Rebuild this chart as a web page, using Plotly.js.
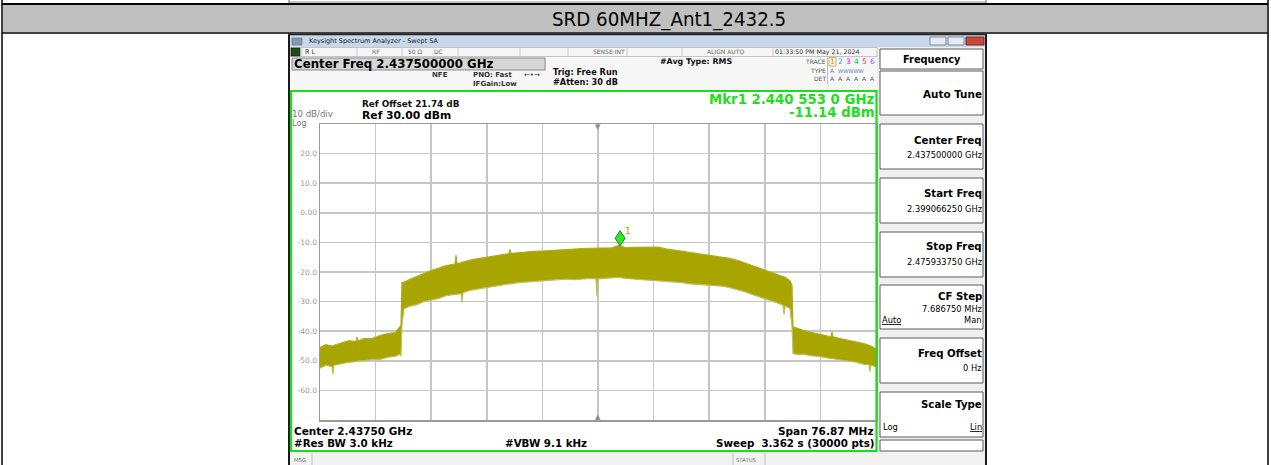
<!DOCTYPE html>
<html><head><meta charset="utf-8">
<script src="https://cdn.plot.ly/plotly-3.0.1.min.js"></script>
<style>html,body{margin:0;padding:0;background:#fff;overflow:hidden}#chart{width:1271px;height:465px}</style>
</head><body><div id="chart"></div>
<script>
// ---- chart data ----
const startFreq = 2.39906625, stopFreq = 2.47593375, centerFreq = 2.4375;
const freqStep = 0.00768675;           // GHz per division
const refLevel = 30, bottomLevel = -70, dbPerDiv = 10;
const freqGHz = [2.39907,2.39990,2.40072,2.40086,2.40100,2.40197,2.40308,2.40404,2.40418,2.40432,2.40515,2.40625,2.40736,
  2.40847,2.40944,2.41013,2.41026,2.41040,2.41068,2.41151,2.41248,2.41344,2.41441,2.41538,2.41649,2.41773,2.41787,2.41801,
  2.41856,2.41870,2.41884,2.41980,2.42091,2.42202,2.42312,2.42423,2.42519,2.42533,2.42547,2.42644,2.42755,2.42865,2.42976,
  2.43086,2.43197,2.43308,2.43418,2.43529,2.43639,2.43722,2.43736,2.43750,2.43833,2.43944,2.44040,2.44137,2.44248,2.44358,
  2.44469,2.44580,2.44690,2.44801,2.44911,2.45022,2.45133,2.45243,2.45354,2.45465,2.45575,2.45686,2.45796,2.45907,2.46018,
  2.46128,2.46239,2.46308,2.46322,2.46336,2.46405,2.46432,2.46446,2.46501,2.46598,2.46695,2.46792,2.46888,2.46971,2.46985,
  2.46999,2.47096,2.47206,2.47317,2.47427,2.47496,2.47510,2.47524,2.47593];
const upperDbm = [-45.5,-44.5,-45.0,-44.8,-44.8,-44.0,-43.2,-43.5,-42.0,-43.3,-42.5,-42.5,-41.5,
  -40.8,-40.5,-38.5,-38.0,-23.5,-23.5,-22.5,-21.5,-20.3,-19.5,-18.8,-17.8,-17.3,-14.3,-17.2,
  -16.8,-16.7,-16.6,-16.0,-15.5,-15.0,-14.5,-14.0,-13.8,-12.4,-13.7,-13.5,-13.2,-13.0,-12.9,
  -12.7,-12.5,-12.3,-12.2,-12.1,-12.0,-12.0,-12.0,-12.0,-11.9,-11.8,-11.0,-11.8,-11.7,-11.7,
  -11.8,-11.6,-12.2,-12.6,-13.0,-13.3,-13.6,-14.0,-14.5,-14.9,-15.4,-16.1,-17.0,-18.0,-19.0,
  -20.0,-21.0,-21.6,-21.6,-21.8,-23.0,-24.5,-38.5,-39.0,-39.8,-40.4,-41.0,-41.5,-41.9,-40.2,
  -41.9,-42.5,-43.0,-43.6,-44.2,-44.8,-44.8,-45.0,-46.0];
const lowerDbm = [-52.5,-51.5,-52.0,-54.5,-51.5,-51.0,-50.5,-50.3,-50.0,-50.0,-50.0,-49.5,-49.5,
  -48.8,-48.5,-47.8,-48.5,-38.0,-32.5,-31.5,-31.0,-30.0,-29.5,-29.0,-28.0,-27.5,-27.5,-27.5,
  -27.3,-30.2,-27.0,-26.2,-25.7,-25.2,-24.8,-24.3,-24.0,-24.0,-24.0,-23.6,-23.4,-23.2,-23.0,
  -22.8,-22.5,-22.4,-22.6,-22.3,-22.2,-22.3,-28.3,-22.3,-22.2,-22.0,-21.8,-22.2,-22.4,-22.6,
  -22.6,-22.8,-23.0,-23.4,-23.6,-24.0,-24.2,-24.5,-24.6,-24.8,-25.3,-26.0,-26.8,-27.8,-28.8,
  -29.6,-30.5,-31.2,-34.3,-31.5,-32.3,-38.5,-47.5,-47.8,-47.8,-48.3,-48.5,-49.0,-49.3,-49.3,
  -49.3,-49.6,-50.0,-50.5,-51.2,-51.3,-53.7,-51.5,-52.0];
const yTickVals = [20,10,0,-10,-20,-30,-40,-50,-60];
const yTickText = ['20.0','10.0','0.00','-10.0','-20.0','-30.0','-40.0','-50.0','-60.0'];
const mkrFreq = 2.4405530, mkrLevel = -11.14;

// ---- helpers ----
const W = 1271, H = 465;
const px = x => x / W, py = y => 1 - y / H;
const shapes = [], ann = [];
const DV = 'DejaVu Sans, Verdana, sans-serif';
function rect(x0,y0,x1,y1,fill,lc,lw,layer){
  shapes.push({type:'rect',xref:'paper',yref:'paper',x0:px(x0),x1:px(x1),y0:py(y1),y1:py(y0),
    fillcolor:fill||'rgba(0,0,0,0)',line:{color:lc||'rgba(0,0,0,0)',width:lw||0},layer:layer||'below'});
}
function ln(x0,y0,x1,y1,c,w,layer){
  shapes.push({type:'line',xref:'paper',yref:'paper',x0:px(x0),x1:px(x1),y0:py(y0),y1:py(y1),
    line:{color:c,width:w},layer:layer||'above'});
}
function txt(x,y,t,size,color,xa,fam){
  ann.push({xref:'paper',yref:'paper',x:px(x),y:py(y),text:t,showarrow:false,xanchor:xa||'left',yanchor:'middle',
    borderpad:0,borderwidth:0,font:{family:fam||DV,size:size,color:color||'#000'}});
}

// ---- outer table ----
ln(289,0,289,3,'#666',1); ln(986,0,986,3,'#666',1); ln(289,2,986,2,'#888',1);
rect(3,5,1267,32,'#c0c0c0');
ln(2,4,1268,4,'#000',2);
ln(2,33,1268,33,'#000',1.5);
ln(2,0,2,465,'#000',1.5); ln(1268,0,1268,465,'#000',1.5);
txt(669,19,'SRD 60MHZ_Ant1_2432.5',20.3,'#000','center','DejaVu Sans Condensed, Liberation Sans Narrow, Arial Narrow, sans-serif');

// ---- analyzer screenshot frame ----
rect(289,35,986,465,'#f0f0f0');
rect(290,35,985,47,'#c8d8ec');
ln(288,34.5,987,34.5,'#222',1.5);
ln(289,35,289,465,'#1a1a1a',2); ln(986,35,986,465,'#1a1a1a',2);
rect(292,38,302,45,'#8a98ae','#55657a',0.5,'above');
txt(309,41,'Keysight Spectrum Analyzer - Swept SA',6.5,'#1a1a1a');
rect(930,37,946,45,'#e3ebf5','#7a8aa0',1,'above');
rect(948,37,964,45,'#e3ebf5','#7a8aa0',1,'above');
rect(966,37,984,45,'#c8473a','#7a2a20',1,'above');
// status row
rect(290,47.5,877,56.5,'#f6f6f6','#b0b0b0',0.7);
[302,357,402,458,520,568,627,682,773].forEach(x=>ln(x,47.5,x,56.5,'#b8b8b8',0.7));
rect(291,48,300,56,'#1e4e18','#000',0.5,'above');
txt(305,52,'R L',6.5,'#444'); txt(372,52,'RF',6,'#666'); txt(408,52,'50 Ω',6,'#666'); txt(434,52,'DC',6,'#666');
txt(625,52,'SENSE:INT',6,'#666','right'); txt(707,52,'ALIGN AUTO',6,'#666');
txt(775,52,'01:33:50 PM May 21, 2024',6.3,'#333');
// header area
rect(290,57,877,90,'#f7f7f7');
rect(292,58,545,70,'#d6d6d6','#8a8a8a',1);
txt(294,64.5,'<b>Center Freq 2.437500000 GHz</b>',11.8,'#000');
txt(432,75,'<b>NFE</b>',7,'#333'); txt(473,75,'<b>PNO: Fast</b>',7,'#333'); txt(524,75,'←•→',7,'#333');
txt(473,83.5,'<b>IFGain:Low</b>',7,'#333');
txt(553,72,'<b>Trig: Free Run</b>',8.2,'#111'); txt(553,82,'<b>#Atten: 30 dB</b>',8.2,'#111');
txt(660,62,'<b>#Avg Type: RMS</b>',7.9,'#111');
txt(826,62,'TRACE',6,'#555','right'); txt(826,70.5,'TYPE',6,'#555','right'); txt(826,78.5,'DET',6,'#555','right');
ln(827.5,57,827.5,84,'#c0c0c0',1);
const trCols=['#e08a00','#00b8ff','#ff00ff','#00d060','#ff3030','#7a5cff'];
trCols.forEach((c,i)=>txt(830+i*8,62,String(i+1),7.5,c));
rect(829,57.5,836,66,'rgba(0,0,0,0)','#e08a00',0.7,'above');
txt(830,70.5,'A',6,'#6a7aa0'); txt(838,70.5,'WWWWW',5.2,'#6a7aa0');
[0,1,2,3,4,5].forEach(i=>txt(830+i*8,78.5,'A',6,'#555'));

// ---- main (green) panel ----
rect(291,91,876,451,'#ffffff');
rect(291,91,876.5,451,'rgba(0,0,0,0)','#18e018',2.2,'above');
txt(362,104,'<b>Ref Offset 21.74 dB</b>',8.9,'#111');
txt(362,115,'<b>Ref 30.00 dBm</b>',10.8,'#000');
txt(292,114,'10 dB/div',8.6,'#777');
txt(292,122.5,'Log',8.2,'#777');
txt(875,99.5,'<b>Mkr1 2.440 553 0 GHz</b>',13.3,'#22dd22','right');
txt(875,112.5,'<b>-11.14 dBm</b>',13.3,'#22dd22','right');
txt(294,430.5,'<b>Center 2.43750 GHz</b>',10.5,'#000');
txt(294,442.5,'<b>#Res BW 3.0 kHz</b>',10.3,'#000');
txt(505,442.5,'<b>#VBW 9.1 kHz</b>',10.3,'#000');
txt(874,430.5,'<b>Span 76.87 MHz</b>',10.5,'#000','right');
txt(875,442.5,'<b>Sweep  3.362 s (30000 pts)</b>',10.3,'#000','right');
txt(598,127.5,'▼',7,'#8a8a8a','center');
txt(598,416.5,'▲',7,'#8a8a8a','center');

// ---- right soft-key panel ----
function box(y0,y1){rect(880,y0,983,y1,'#ffffff','#5a5a5a',1);}
box(49,69); txt(932,59,'<b>Frequency</b>',9.8,'#000','center');
box(71,115); txt(982,94,'<b>Auto Tune</b>',10.4,'#000','right');
box(124,169); txt(982,140.5,'<b>Center Freq</b>',10.2,'#000','right'); txt(982,155,'2.437500000 GHz',8.3,'#000','right');
box(178,223); txt(982,193,'<b>Start Freq</b>',10.2,'#000','right'); txt(982,208.5,'2.399066250 GHz',8.3,'#000','right');
box(232,277); txt(982,247,'<b>Stop Freq</b>',10.2,'#000','right'); txt(982,262,'2.475933750 GHz',8.3,'#000','right');
box(285,329); txt(982,296.5,'<b>CF Step</b>',10.2,'#000','right'); txt(982,308.5,'7.686750 MHz',8.3,'#000','right');
txt(882,320,'<u>Auto</u>',8.3,'#000'); txt(982,320,'Man',8.3,'#000','right');
box(338,383); txt(982,353,'<b>Freq Offset</b>',10.2,'#000','right'); txt(982,368,'0 Hz',8.3,'#000','right');
box(392,437); txt(982,404,'<b>Scale Type</b>',10.2,'#000','right');
txt(883,426.5,'Log',8.3,'#000'); txt(982,426.5,'<u>Lin</u>',8.3,'#000','right');
box(440,451);

// ---- bottom status bar ----
rect(290,453,985,465,'#f2f2f2');
ln(312,453,312,465,'#c0c0c0',1); ln(733,453,733,465,'#c0c0c0',1); ln(765,453,765,465,'#c0c0c0',1);
txt(294,459.5,'MSG',5.3,'#777'); txt(736,459.5,'STATUS',5.3,'#777');

// ---- marker ----
shapes.push({type:'path',xref:'x',yref:'y',xsizemode:'pixel',ysizemode:'pixel',xanchor:mkrFreq,yanchor:mkrLevel,
  path:'M0,0 L5,7.5 L0,15 L-5,7.5 Z',fillcolor:'#22ee22',line:{color:'#2a7a2a',width:1},layer:'above'});
ann.push({xref:'x',yref:'y',x:mkrFreq,y:mkrLevel,xshift:8,yshift:15,text:'1',showarrow:false,
  font:{family:DV,size:9,color:'#a8a400'}});

const data = [
  {x:freqGHz,y:lowerDbm,type:'scatter',mode:'lines',line:{color:'#c2be5a',width:1.2},hoverinfo:'skip',showlegend:false},
  {x:freqGHz,y:upperDbm,type:'scatter',mode:'lines',fill:'tonexty',fillcolor:'rgb(168,164,0)',
   line:{color:'#b0ac20',width:1.2},hoverinfo:'skip',showlegend:false}
];

const layout = {
  width:W,height:H,margin:{l:0,r:0,t:0,b:0,pad:0},
  paper_bgcolor:'#ffffff',plot_bgcolor:'rgba(0,0,0,0)',showlegend:false,hovermode:false,
  xaxis:{domain:[320/W,876/W],range:[startFreq,stopFreq],tick0:startFreq,dtick:freqStep,showticklabels:false,
    ticks:'',showgrid:true,gridcolor:'#c6c6c6',gridwidth:1.5,zeroline:false,showline:true,mirror:true,
    linecolor:'#9a9a9a',linewidth:1.5,fixedrange:true},
  yaxis:{domain:[1-420/H,1-124/H],range:[bottomLevel,refLevel],tickmode:'array',tickvals:yTickVals,ticktext:yTickText,
    ticks:'',showgrid:true,gridcolor:'#c6c6c6',gridwidth:1.5,zeroline:false,showline:true,mirror:true,
    linecolor:'#9a9a9a',linewidth:1.5,tickfont:{family:DV,size:7.5,color:'#999'},fixedrange:true},
  shapes:shapes,annotations:ann
};
Plotly.newPlot('chart',data,layout,{staticPlot:true,displayModeBar:false});
</script></body></html>
